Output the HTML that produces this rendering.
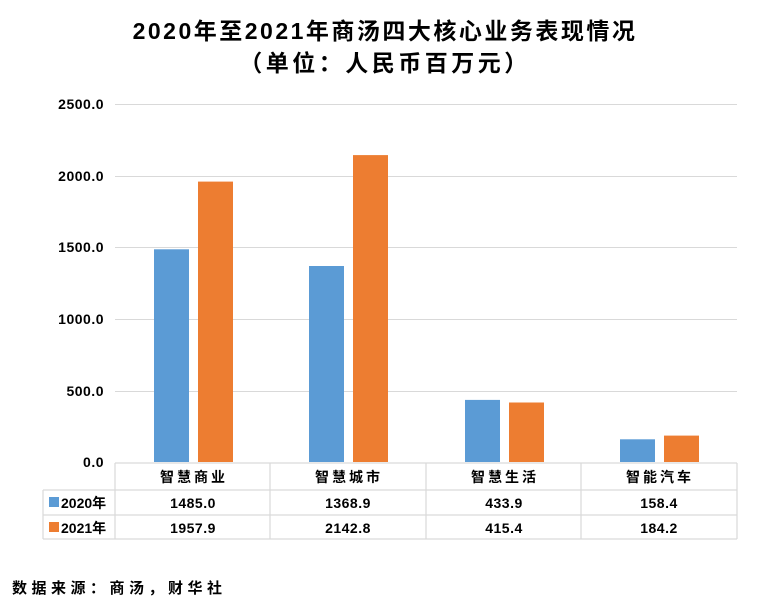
<!DOCTYPE html>
<html><head><meta charset="utf-8"><style>
body{margin:0;background:#fff;}
svg text{font-family:"Liberation Sans","Noto Sans CJK SC",sans-serif;font-weight:bold;fill:#000;}
</style></head><body>
<svg width="760" height="604" xmlns="http://www.w3.org/2000/svg">
<rect width="760" height="604" fill="#fff"/>
<text x="385" y="39" font-size="23" letter-spacing="2.5" text-anchor="middle">2020年至2021年商汤四大核心业务表现情况</text>
<text x="385" y="71" font-size="23" letter-spacing="3.5" text-anchor="middle">（单位：人民币百万元）</text>
<g stroke="#d9d9d9" stroke-width="1">
<line x1="115" y1="104.5" x2="737" y2="104.5"/>
<line x1="115" y1="176.5" x2="737" y2="176.5"/>
<line x1="115" y1="247.5" x2="737" y2="247.5"/>
<line x1="115" y1="319.5" x2="737" y2="319.5"/>
<line x1="115" y1="391.5" x2="737" y2="391.5"/>
</g>
<g font-size="14" text-anchor="end" letter-spacing="0.5">
<text x="104" y="109">2500.0</text>
<text x="104" y="181">2000.0</text>
<text x="104" y="252">1500.0</text>
<text x="104" y="324">1000.0</text>
<text x="104" y="396">500.0</text>
<text x="104" y="467">0.0</text>
</g>
<g fill="#5b9bd5">
<rect x="154" y="249.3" width="35" height="212.7"/>
<rect x="309" y="266" width="35" height="196"/>
<rect x="465" y="399.9" width="35" height="62.1"/>
<rect x="620" y="439.3" width="35" height="22.7"/>
</g>
<g fill="#ed7d31">
<rect x="198" y="181.6" width="35" height="280.4"/>
<rect x="353" y="155.1" width="35" height="306.9"/>
<rect x="509" y="402.5" width="35" height="59.5"/>
<rect x="664" y="435.6" width="35" height="26.4"/>
</g>
<g stroke="#d9d9d9" stroke-width="1.2" fill="none">
<line x1="115" y1="463" x2="737" y2="463"/>
<line x1="43" y1="490" x2="737" y2="490"/>
<line x1="43" y1="515" x2="737" y2="515"/>
<line x1="43" y1="539" x2="737" y2="539"/>
<line x1="43" y1="490" x2="43" y2="539"/>
<line x1="115" y1="463" x2="115" y2="539"/>
<line x1="270" y1="463" x2="270" y2="539"/>
<line x1="426" y1="463" x2="426" y2="539"/>
<line x1="581" y1="463" x2="581" y2="539"/>
<line x1="737" y1="463" x2="737" y2="539"/>
</g>
<g font-size="14" text-anchor="middle" letter-spacing="3">
<text x="194" y="482">智慧商业</text>
<text x="349" y="482">智慧城市</text>
<text x="505" y="482">智慧生活</text>
<text x="660" y="482">智能汽车</text>
</g>
<g font-size="14" text-anchor="middle" letter-spacing="0.5">
<text x="193" y="508">1485.0</text>
<text x="348" y="508">1368.9</text>
<text x="504" y="508">433.9</text>
<text x="659" y="508">158.4</text>
<text x="193" y="533">1957.9</text>
<text x="348" y="533">2142.8</text>
<text x="504" y="533">415.4</text>
<text x="659" y="533">184.2</text>
</g>
<rect x="49" y="497" width="10" height="10" fill="#5b9bd5"/>
<rect x="49" y="522" width="10" height="10" fill="#ed7d31"/>
<text x="61" y="508" font-size="14">2020年</text>
<text x="61" y="533" font-size="14">2021年</text>
<text x="12" y="593" font-size="15" letter-spacing="4.5">数据来源：商汤，财华社</text>
</svg>
</body></html>
